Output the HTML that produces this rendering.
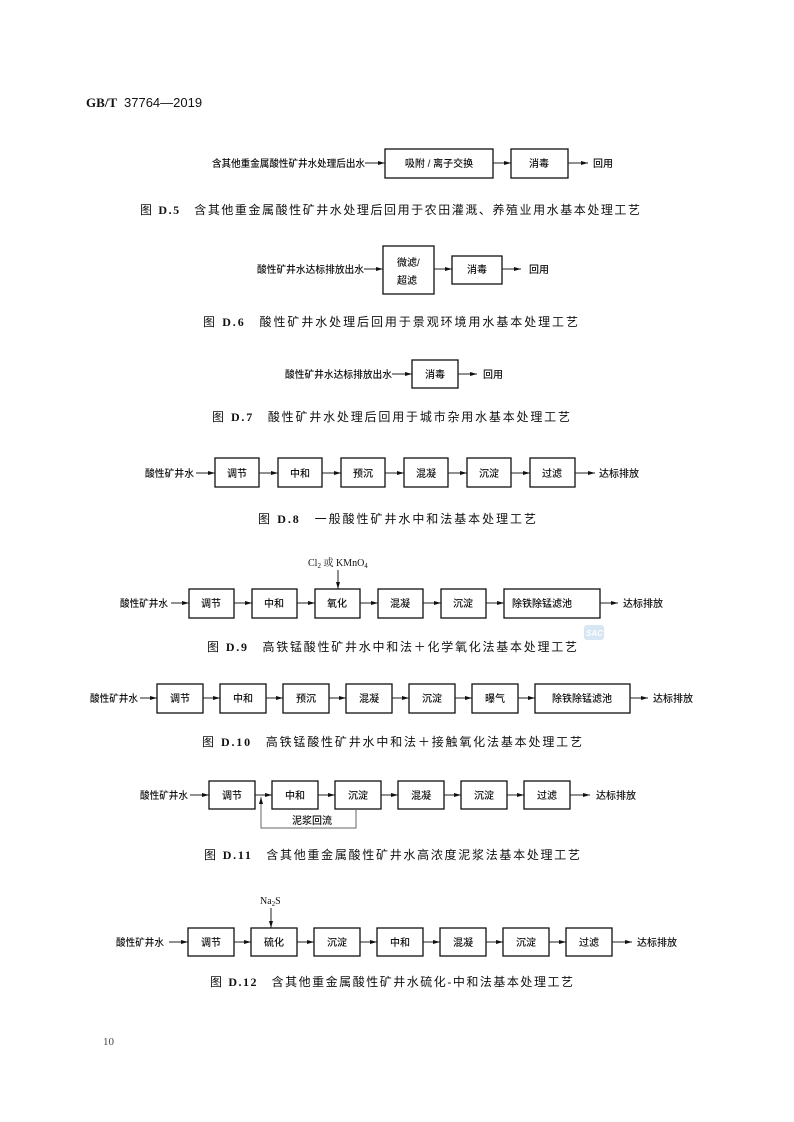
<!DOCTYPE html>
<html><head><meta charset="utf-8"><style>
html,body{margin:0;padding:0;background:#fff}
svg{display:block}
text{font-family:"Liberation Serif","Noto Serif CJK SC","Noto Sans CJK SC",serif;fill:#111}
.l{font-size:10px;font-family:"Liberation Sans","Noto Sans CJK SC",sans-serif;font-weight:500}
.c{font-size:12px;font-family:"Liberation Sans","Noto Sans CJK SC",sans-serif}
.c tspan.b{font-family:"Liberation Serif",serif;font-weight:bold}
rect{fill:#fff;stroke:#111;stroke-width:1.3}
line,polyline{stroke:#222;stroke-width:1;fill:none}
</style></head><body>
<svg width="794" height="1122" viewBox="0 0 794 1122" xmlns="http://www.w3.org/2000/svg">
<defs><marker id="a" markerWidth="8" markerHeight="6" refX="7" refY="3" orient="auto" markerUnits="userSpaceOnUse"><path d="M0,1 L7,3 L0,5 z" fill="#111"/></marker></defs>
<text x="86" y="107" style="font-size:13px;font-family:'Liberation Serif',serif;font-weight:bold">GB/T</text>
<text x="124" y="107" style="font-size:13px;font-family:'Liberation Sans',sans-serif">37764—2019</text>

<!-- D.5 -->
<text class="l" x="212" y="167" textLength="153" lengthAdjust="spacingAndGlyphs">含其他重金属酸性矿井水处理后出水</text>
<line x1="365" y1="163" x2="385" y2="163" marker-end="url(#a)"/>
<rect x="385" y="149" width="108" height="29"/>
<text class="l" x="439" y="167" text-anchor="middle">吸附 / 离子交换</text>
<line x1="493" y1="163" x2="511" y2="163" marker-end="url(#a)"/>
<rect x="511" y="149" width="57" height="29"/>
<text class="l" x="539" y="167" text-anchor="middle">消毒</text>
<line x1="568" y1="163" x2="588" y2="163" marker-end="url(#a)"/>
<text class="l" x="593" y="167">回用</text>
<text class="c" x="140" y="214" textLength="500" lengthAdjust="spacing">图 <tspan class="b">D.5</tspan>　含其他重金属酸性矿井水处理后回用于农田灌溉、养殖业用水基本处理工艺</text>

<!-- D.6 -->
<text class="l" x="257" y="273" textLength="107" lengthAdjust="spacingAndGlyphs">酸性矿井水达标排放出水</text>
<line x1="364" y1="269" x2="383" y2="269" marker-end="url(#a)"/>
<rect x="383" y="246" width="51" height="48"/>
<text class="l" x="397" y="266">微滤/</text>
<text class="l" x="397" y="284">超滤</text>
<line x1="434" y1="269" x2="452" y2="269" marker-end="url(#a)"/>
<rect x="452" y="256" width="50" height="28"/>
<text class="l" x="477" y="273" text-anchor="middle">消毒</text>
<line x1="502" y1="269" x2="521" y2="269" marker-end="url(#a)"/>
<text class="l" x="529" y="273">回用</text>
<text class="c" x="203" y="326" textLength="375" lengthAdjust="spacing">图 <tspan class="b">D.6</tspan>　酸性矿井水处理后回用于景观环境用水基本处理工艺</text>

<!-- D.7 -->
<text class="l" x="285" y="378" textLength="107" lengthAdjust="spacingAndGlyphs">酸性矿井水达标排放出水</text>
<line x1="392" y1="374" x2="412" y2="374" marker-end="url(#a)"/>
<rect x="412" y="360" width="46" height="28"/>
<text class="l" x="435" y="378" text-anchor="middle">消毒</text>
<line x1="458" y1="374" x2="477" y2="374" marker-end="url(#a)"/>
<text class="l" x="483" y="378">回用</text>
<text class="c" x="212" y="421" textLength="358" lengthAdjust="spacing">图 <tspan class="b">D.7</tspan>　酸性矿井水处理后回用于城市杂用水基本处理工艺</text>

<!-- D.8 -->
<text class="l" x="145" y="477" textLength="49" lengthAdjust="spacingAndGlyphs">酸性矿井水</text>
<line x1="196" y1="473" x2="215" y2="473" marker-end="url(#a)"/>
<rect x="215" y="458" width="44" height="29"/><text class="l" x="237" y="477" text-anchor="middle">调节</text>
<line x1="259" y1="473" x2="278" y2="473" marker-end="url(#a)"/>
<rect x="278" y="458" width="44" height="29"/><text class="l" x="300" y="477" text-anchor="middle">中和</text>
<line x1="322" y1="473" x2="341" y2="473" marker-end="url(#a)"/>
<rect x="341" y="458" width="44" height="29"/><text class="l" x="363" y="477" text-anchor="middle">预沉</text>
<line x1="385" y1="473" x2="404" y2="473" marker-end="url(#a)"/>
<rect x="404" y="458" width="44" height="29"/><text class="l" x="426" y="477" text-anchor="middle">混凝</text>
<line x1="448" y1="473" x2="467" y2="473" marker-end="url(#a)"/>
<rect x="467" y="458" width="44" height="29"/><text class="l" x="489" y="477" text-anchor="middle">沉淀</text>
<line x1="511" y1="473" x2="530" y2="473" marker-end="url(#a)"/>
<rect x="530" y="458" width="45" height="29"/><text class="l" x="552" y="477" text-anchor="middle">过滤</text>
<line x1="575" y1="473" x2="595" y2="473" marker-end="url(#a)"/>
<text class="l" x="599" y="477">达标排放</text>
<text class="c" x="258" y="523" textLength="278" lengthAdjust="spacing">图 <tspan class="b">D.8</tspan>　一般酸性矿井水中和法基本处理工艺</text>

<!-- D.9 -->
<text x="308" y="566" style="font-size:10px">Cl<tspan style="font-size:7px" dy="2">2</tspan><tspan dy="-2"> 或 KMnO</tspan><tspan style="font-size:7px" dy="2">4</tspan></text>
<line x1="338" y1="570" x2="338" y2="589" marker-end="url(#a)"/>
<text class="l" x="120" y="607" textLength="48" lengthAdjust="spacingAndGlyphs">酸性矿井水</text>
<line x1="171" y1="603" x2="189" y2="603" marker-end="url(#a)"/>
<rect x="189" y="589" width="45" height="29"/><text class="l" x="211" y="607" text-anchor="middle">调节</text>
<line x1="234" y1="603" x2="252" y2="603" marker-end="url(#a)"/>
<rect x="252" y="589" width="45" height="29"/><text class="l" x="274" y="607" text-anchor="middle">中和</text>
<line x1="297" y1="603" x2="315" y2="603" marker-end="url(#a)"/>
<rect x="315" y="589" width="45" height="29"/><text class="l" x="337" y="607" text-anchor="middle">氧化</text>
<line x1="360" y1="603" x2="378" y2="603" marker-end="url(#a)"/>
<rect x="378" y="589" width="45" height="29"/><text class="l" x="400" y="607" text-anchor="middle">混凝</text>
<line x1="423" y1="603" x2="441" y2="603" marker-end="url(#a)"/>
<rect x="441" y="589" width="45" height="29"/><text class="l" x="463" y="607" text-anchor="middle">沉淀</text>
<line x1="486" y1="603" x2="504" y2="603" marker-end="url(#a)"/>
<rect x="504" y="589" width="96" height="29"/><text class="l" x="542" y="607" text-anchor="middle">除铁除锰滤池</text>
<line x1="600" y1="603" x2="618" y2="603" marker-end="url(#a)"/>
<text class="l" x="623" y="607">达标排放</text>
<rect x="584" y="625" width="20" height="15" rx="3" style="fill:#d6e6f3;stroke:none"/>
<text x="586" y="636" style="font-size:8px;fill:#fff;font-weight:bold;font-style:italic;font-family:'Liberation Sans',sans-serif">SAC</text>
<text class="c" x="207" y="651" textLength="370" lengthAdjust="spacing">图 <tspan class="b">D.9</tspan>　高铁锰酸性矿井水中和法＋化学氧化法基本处理工艺</text>

<!-- D.10 -->
<text class="l" x="90" y="702" textLength="48" lengthAdjust="spacingAndGlyphs">酸性矿井水</text>
<line x1="140" y1="698" x2="157" y2="698" marker-end="url(#a)"/>
<rect x="157" y="684" width="46" height="29"/><text class="l" x="180" y="702" text-anchor="middle">调节</text>
<line x1="203" y1="698" x2="220" y2="698" marker-end="url(#a)"/>
<rect x="220" y="684" width="46" height="29"/><text class="l" x="243" y="702" text-anchor="middle">中和</text>
<line x1="266" y1="698" x2="283" y2="698" marker-end="url(#a)"/>
<rect x="283" y="684" width="46" height="29"/><text class="l" x="306" y="702" text-anchor="middle">预沉</text>
<line x1="329" y1="698" x2="346" y2="698" marker-end="url(#a)"/>
<rect x="346" y="684" width="46" height="29"/><text class="l" x="369" y="702" text-anchor="middle">混凝</text>
<line x1="392" y1="698" x2="409" y2="698" marker-end="url(#a)"/>
<rect x="409" y="684" width="46" height="29"/><text class="l" x="432" y="702" text-anchor="middle">沉淀</text>
<line x1="455" y1="698" x2="472" y2="698" marker-end="url(#a)"/>
<rect x="472" y="684" width="46" height="29"/><text class="l" x="495" y="702" text-anchor="middle">曝气</text>
<line x1="518" y1="698" x2="535" y2="698" marker-end="url(#a)"/>
<rect x="535" y="684" width="95" height="29"/><text class="l" x="582" y="702" text-anchor="middle">除铁除锰滤池</text>
<line x1="630" y1="698" x2="648" y2="698" marker-end="url(#a)"/>
<text class="l" x="653" y="702">达标排放</text>
<text class="c" x="202" y="746" textLength="380" lengthAdjust="spacing">图 <tspan class="b">D.10</tspan>　高铁锰酸性矿井水中和法＋接触氧化法基本处理工艺</text>

<!-- D.11 -->
<text class="l" x="140" y="799" textLength="48" lengthAdjust="spacingAndGlyphs">酸性矿井水</text>
<line x1="190" y1="795" x2="209" y2="795" marker-end="url(#a)"/>
<rect x="209" y="781" width="46" height="28"/><text class="l" x="232" y="799" text-anchor="middle">调节</text>
<line x1="255" y1="795" x2="272" y2="795" marker-end="url(#a)"/>
<rect x="272" y="781" width="46" height="28"/><text class="l" x="295" y="799" text-anchor="middle">中和</text>
<line x1="318" y1="795" x2="335" y2="795" marker-end="url(#a)"/>
<rect x="335" y="781" width="46" height="28"/><text class="l" x="358" y="799" text-anchor="middle">沉淀</text>
<line x1="381" y1="795" x2="398" y2="795" marker-end="url(#a)"/>
<rect x="398" y="781" width="46" height="28"/><text class="l" x="421" y="799" text-anchor="middle">混凝</text>
<line x1="444" y1="795" x2="461" y2="795" marker-end="url(#a)"/>
<rect x="461" y="781" width="46" height="28"/><text class="l" x="484" y="799" text-anchor="middle">沉淀</text>
<line x1="507" y1="795" x2="524" y2="795" marker-end="url(#a)"/>
<rect x="524" y="781" width="46" height="28"/><text class="l" x="547" y="799" text-anchor="middle">过滤</text>
<line x1="570" y1="795" x2="590" y2="795" marker-end="url(#a)"/>
<text class="l" x="596" y="799">达标排放</text>
<polyline points="356,809 356,828 261,828 261,797" style="stroke:#666" marker-end="url(#a)"/>
<text class="l" x="292" y="824">泥浆回流</text>
<text class="c" x="204" y="859" textLength="376" lengthAdjust="spacing">图 <tspan class="b">D.11</tspan>　含其他重金属酸性矿井水高浓度泥浆法基本处理工艺</text>

<!-- D.12 -->
<text x="260" y="904" style="font-size:10px">Na<tspan style="font-size:7px" dy="2">2</tspan><tspan dy="-2">S</tspan></text>
<line x1="271" y1="908" x2="271" y2="928" marker-end="url(#a)"/>
<text class="l" x="116" y="946" textLength="48" lengthAdjust="spacingAndGlyphs">酸性矿井水</text>
<line x1="169" y1="942" x2="188" y2="942" marker-end="url(#a)"/>
<rect x="188" y="928" width="46" height="28"/><text class="l" x="211" y="946" text-anchor="middle">调节</text>
<line x1="234" y1="942" x2="251" y2="942" marker-end="url(#a)"/>
<rect x="251" y="928" width="46" height="28"/><text class="l" x="274" y="946" text-anchor="middle">硫化</text>
<line x1="297" y1="942" x2="314" y2="942" marker-end="url(#a)"/>
<rect x="314" y="928" width="46" height="28"/><text class="l" x="337" y="946" text-anchor="middle">沉淀</text>
<line x1="360" y1="942" x2="377" y2="942" marker-end="url(#a)"/>
<rect x="377" y="928" width="46" height="28"/><text class="l" x="400" y="946" text-anchor="middle">中和</text>
<line x1="423" y1="942" x2="440" y2="942" marker-end="url(#a)"/>
<rect x="440" y="928" width="46" height="28"/><text class="l" x="463" y="946" text-anchor="middle">混凝</text>
<line x1="486" y1="942" x2="503" y2="942" marker-end="url(#a)"/>
<rect x="503" y="928" width="46" height="28"/><text class="l" x="526" y="946" text-anchor="middle">沉淀</text>
<line x1="549" y1="942" x2="566" y2="942" marker-end="url(#a)"/>
<rect x="566" y="928" width="46" height="28"/><text class="l" x="589" y="946" text-anchor="middle">过滤</text>
<line x1="612" y1="942" x2="632" y2="942" marker-end="url(#a)"/>
<text class="l" x="637" y="946">达标排放</text>
<text class="c" x="210" y="986" textLength="363" lengthAdjust="spacing">图 <tspan class="b">D.12</tspan>　含其他重金属酸性矿井水硫化-中和法基本处理工艺</text>

<text x="103" y="1045" style="font-size:11px;fill:#444">10</text>
</svg>
</body></html>
